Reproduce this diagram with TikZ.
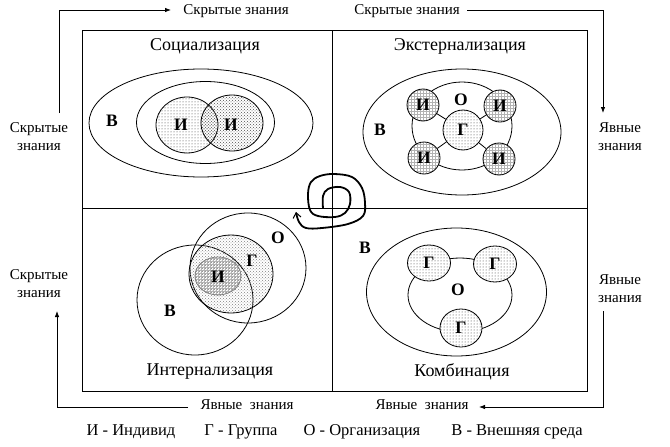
\documentclass[tikz,border=0pt]{standalone}
\usepackage{fontspec}
\setmainfont{Liberation Serif}
\usetikzlibrary{patterns,shapes.geometric,arrows.meta}
\begin{document}
\begin{tikzpicture}[x=1pt,y=-1pt,
  ln/.style={line width=0.8pt},
  arr/.style={line width=0.8pt,-{Latex[length=6pt,width=4.5pt]}},
  ttl/.style={font=\fontsize{18}{20}\selectfont, inner sep=0pt},
  sm/.style={font=\fontsize{15}{18}\selectfont, inner sep=0pt, align=center},
  leg/.style={font=\fontsize{16.5}{18}\selectfont, inner sep=0pt},
  lb/.style={font=\bfseries\fontsize{17.5}{18}\selectfont, inner sep=0pt},
  el/.style={ellipse, draw, line width=0.8pt, inner sep=0pt},
  sparse/.style={pattern=dots, pattern color=black!80},
  dense/.style={pattern=crosshatch dots, pattern color=black!70},
  gridf/.style={pattern=grid, pattern color=black!30},
  wbg/.style={preaction={fill=white}}
]
\useasboundingbox (0,0) rectangle (670,447);
% frame
\draw[ln] (82,30) rectangle (587,391);
\draw[ln] (332,30) -- (332,391);
\draw[ln] (82,208) -- (587,208);
% titles
\node[ttl] (t1) at (205,46) {Социализация};
\node[ttl] (t2) at (460,46) {Экстернализация};
\node[ttl] (t3) at (210,372) {Интернализация};
\node[ttl] (t4) at (462,372) {Комбинация};
% Q1 socialization
\node[el, minimum width=224pt, minimum height=108pt] (q1o) at (201,123) {};
\node[el, minimum width=138pt, minimum height=82pt] (q1i) at (205.5,122.5) {};
\node[el, sparse, minimum width=62pt, minimum height=56pt] (q1a) at (187,125) {};
\node[el, dense, minimum width=62pt, minimum height=56pt] (q1b) at (232,123) {};
\node[lb] (q1la) at (181,125) {И};
\node[lb] (q1lb) at (231,125) {И};
\node[lb] (q1lv) at (112,121) {В};
% Q2 externalization
\node[el, minimum width=198pt, minimum height=126pt] (q2o) at (462,132) {};
\node[el, minimum width=100pt, minimum height=88pt] (q2r) at (462,126) {};
\node[el, wbg, sparse, minimum width=40pt, minimum height=40pt, font=\bfseries\fontsize{17.5}{18}\selectfont] (q2g) at (463,130) {Г};
\node[el, wbg, gridf, minimum width=32pt, minimum height=32pt, font=\bfseries\fontsize{17.5}{18}\selectfont] (q2i1) at (423,105) {И};
\node[el, wbg, gridf, minimum width=32pt, minimum height=32pt, font=\bfseries\fontsize{17.5}{18}\selectfont] (q2i2) at (500,106) {И};
\node[el, wbg, gridf, minimum width=32pt, minimum height=32pt, font=\bfseries\fontsize{17.5}{18}\selectfont] (q2i3) at (424,158) {И};
\node[el, wbg, gridf, minimum width=32pt, minimum height=32pt, font=\bfseries\fontsize{17.5}{18}\selectfont] (q2i4) at (499,159) {И};
\draw[ln] (q2g) -- (q2i1);
\draw[ln] (q2g) -- (q2i2);
\draw[ln] (q2g) -- (q2i3);
\draw[ln] (q2g) -- (q2i4);
\node[lb] (q2lo) at (461,100) {О};
\node[lb] (q2lv) at (380,130) {В};
% Q3 internalization
\node[el, minimum width=116pt, minimum height=110pt] (q3v) at (195,300) {};
\node[el, minimum width=116pt, minimum height=110pt] (q3o) at (248,268) {};
\node[el, dense, pattern color=black!50, minimum width=84pt, minimum height=78pt] (q3g) at (231,274) {};
\node[el, gridf, draw=black!50, minimum width=46pt, minimum height=38pt] (q3i) at (218,276) {};
\node[lb] (q3lo) at (278,238) {О};
\node[lb] (q3lg) at (252,261) {Г};
\node[lb] (q3li) at (218,277) {И};
\node[lb] (q3lv) at (170,311) {В};
% Q4 combination
\node[el, minimum width=180pt, minimum height=128pt] (q4o) at (456.5,292) {};
\node[el, minimum width=104pt, minimum height=74pt] (q4r) at (460,295) {};
\node[el, wbg, sparse, minimum width=43pt, minimum height=36pt, font=\bfseries\fontsize{17.5}{18}\selectfont] (q4g1) at (429,263) {Г};
\node[el, wbg, sparse, minimum width=43pt, minimum height=36pt, font=\bfseries\fontsize{17.5}{18}\selectfont] (q4g2) at (495,264) {Г};
\node[el, wbg, sparse, minimum width=42pt, minimum height=38pt, font=\bfseries\fontsize{17.5}{18}\selectfont] (q4g3) at (461,328) {Г};
\node[lb] (q4lo) at (458,290) {О};
\node[lb] (q4lv) at (365,248) {В};
% spiral
\draw[line width=1.8pt, line cap=round, line join=round, -{Straight Barb[length=5pt,width=8pt,line width=1pt]}]
  plot[smooth, tension=0.6] coordinates {(323,208) (323,196) (328,189) (340,187) (349,192) (350,204) (345,213) (335,217) (318,216) (310,210) (308,194) (311,182) (320,176) (334,174) (352,177) (362,188) (365,203) (363,216) (348,224) (322,228) (306,228) (299,222) (296,212)};
% outer arrows
\node[sm] (tt) at (236,11) {Скрытые знания};
\node[sm] (tr) at (407,11) {Скрытые знания};
\node[sm] (lt1) at (39,137) {Скрытые\\знания};
\node[sm] (rt1) at (620,137) {Явные\\знания};
\node[sm] (lt2) at (39,284) {Скрытые\\знания};
\node[sm] (rt2) at (620,289) {Явные\\знания};
\node[sm] (bl) at (247,405) {Явные~ знания};
\node[sm] (br) at (422,405) {Явные~ знания};
\coordinate (a1) at (59,113);
\coordinate (a1e) at (171,10);
\coordinate (a2s) at (467,10);
\coordinate (a2) at (603,113);
\coordinate (b1) at (603,311);
\coordinate (b1e) at (479,407);
\coordinate (c1) at (188,407);
\coordinate (c1e) at (57,311);
\draw[arr] (a1) |- (a1e);
\draw[arr] (a2s) -| (a2);
\draw[arr] (b1) |- (b1e);
\draw[arr] (c1) -| (c1e);
% legend
\node[leg] (l1) at (131,432) {И - Индивид};
\node[leg] (l2) at (241,432) {Г - Группа};
\node[leg] (l3) at (362,432) {О - Организация};
\node[leg] (l4) at (517,432) {В - Внешняя среда};
\end{tikzpicture}
\end{document}
